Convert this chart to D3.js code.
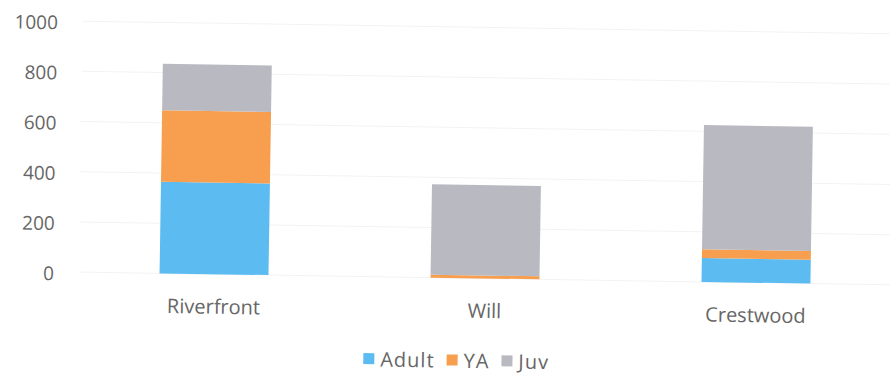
<!DOCTYPE html>
<html>
<head>
<meta charset="utf-8">
<script src="https://cdn.jsdelivr.net/npm/d3@7"></script>
<style>
  body { margin: 0; background: #fff; }
  svg { display: block; }
  text { font-family: "Open Sans", "Liberation Sans", sans-serif; fill: #666; }
</style>
</head>
<body>
<svg id="chart" width="890" height="375"></svg>
<script>
// Counts per site, stacked by age class
const sites = ["Riverfront", "Will", "Crestwood"];
const adult = [365, 0, 95];
const ya = [285, 12, 35];
const juv = [185, 360, 495];
const seriesNames = ["Adult", "YA", "Juv"];
const seriesColors = ["#5cbcf2", "#f79f4e", "#b9b9c1"];
const yTicks = [0, 200, 400, 600, 800, 1000];

const rows = sites.map((s, i) => ({ site: s, Adult: adult[i], YA: ya[i], Juv: juv[i] }));
const stacked = d3.stack().keys(seriesNames)(rows);

const svg = d3.select("#chart");
// whole figure sits on a slight tilt
const root = svg.append("g").attr("transform", "rotate(0.9,485,278)");

const plot = { left: 78.5, right: 891.5, top: 27.5, bottom: 278.5 };

const x = d3.scaleBand()
  .domain(sites)
  .range([plot.left, plot.right])
  .paddingInner(0.598)
  .paddingOuter(0.299);

const y = d3.scaleLinear().domain([0, 1000]).range([plot.bottom, plot.top]);

// gridlines
root.append("g").selectAll("line")
  .data(yTicks)
  .join("line")
  .attr("x1", plot.left).attr("x2", plot.right + 20)
  .attr("y1", d => y(d)).attr("y2", d => y(d))
  .attr("stroke", "#f3f3f3").attr("stroke-width", 1);

// value axis labels
const yAxis = root.append("g")
  .attr("transform", "translate(54,0)")
  .call(d3.axisLeft(y).tickValues(yTicks).tickFormat(d3.format("d")).tickSize(0).tickPadding(0));
yAxis.select(".domain").remove();
yAxis.selectAll("text")
  .attr("font-size", 19)
  .attr("font-family", "Open Sans, sans-serif")
  .attr("fill", "#6b6b6b")
  .attr("dy", "0.42em");

// stacked bars
root.append("g").selectAll("g")
  .data(stacked)
  .join("g")
  .attr("fill", (d, i) => seriesColors[i])
  .selectAll("rect")
  .data(d => d)
  .join("rect")
  .attr("x", d => x(d.data.site))
  .attr("width", x.bandwidth())
  .attr("y", d => y(d[1]))
  .attr("height", d => y(d[0]) - y(d[1]));

// category labels
const xAxis = root.append("g")
  .attr("transform", `translate(0,${plot.bottom})`)
  .call(d3.axisBottom(x).tickSize(0).tickPadding(0));
xAxis.select(".domain").remove();
xAxis.selectAll("text")
  .attr("font-size", 20)
  .attr("font-family", "Open Sans, sans-serif")
  .attr("fill", "#6b6b6b")
  .attr("y", 39.5)
  .attr("dy", 0);

// legend
const legend = root.append("g").attr("transform", "translate(0,361)");
const items = legend.selectAll("g")
  .data(seriesNames)
  .join("g");
items.append("rect")
  .attr("width", 11).attr("height", 11)
  .attr("y", -6)
  .attr("fill", (d, i) => seriesColors[i]);
items.append("text")
  .attr("x", 17)
  .attr("y", 0)
  .attr("dy", "0.36em")
  .attr("font-size", 20)
  .attr("letter-spacing", 1)
  .attr("fill", "#6b6b6b")
  .text(d => d);
const widths = [];
items.each(function () { widths.push(17 + this.querySelector("text").getComputedTextLength()); });
const gap = 12;
const total = d3.sum(widths) + gap * (widths.length - 1);
let cursor = 457.5 - total / 2;
items.attr("transform", (d, i) => {
  const tx = cursor;
  cursor += widths[i] + gap;
  return `translate(${tx},0)`;
});
</script>
</body>
</html>
